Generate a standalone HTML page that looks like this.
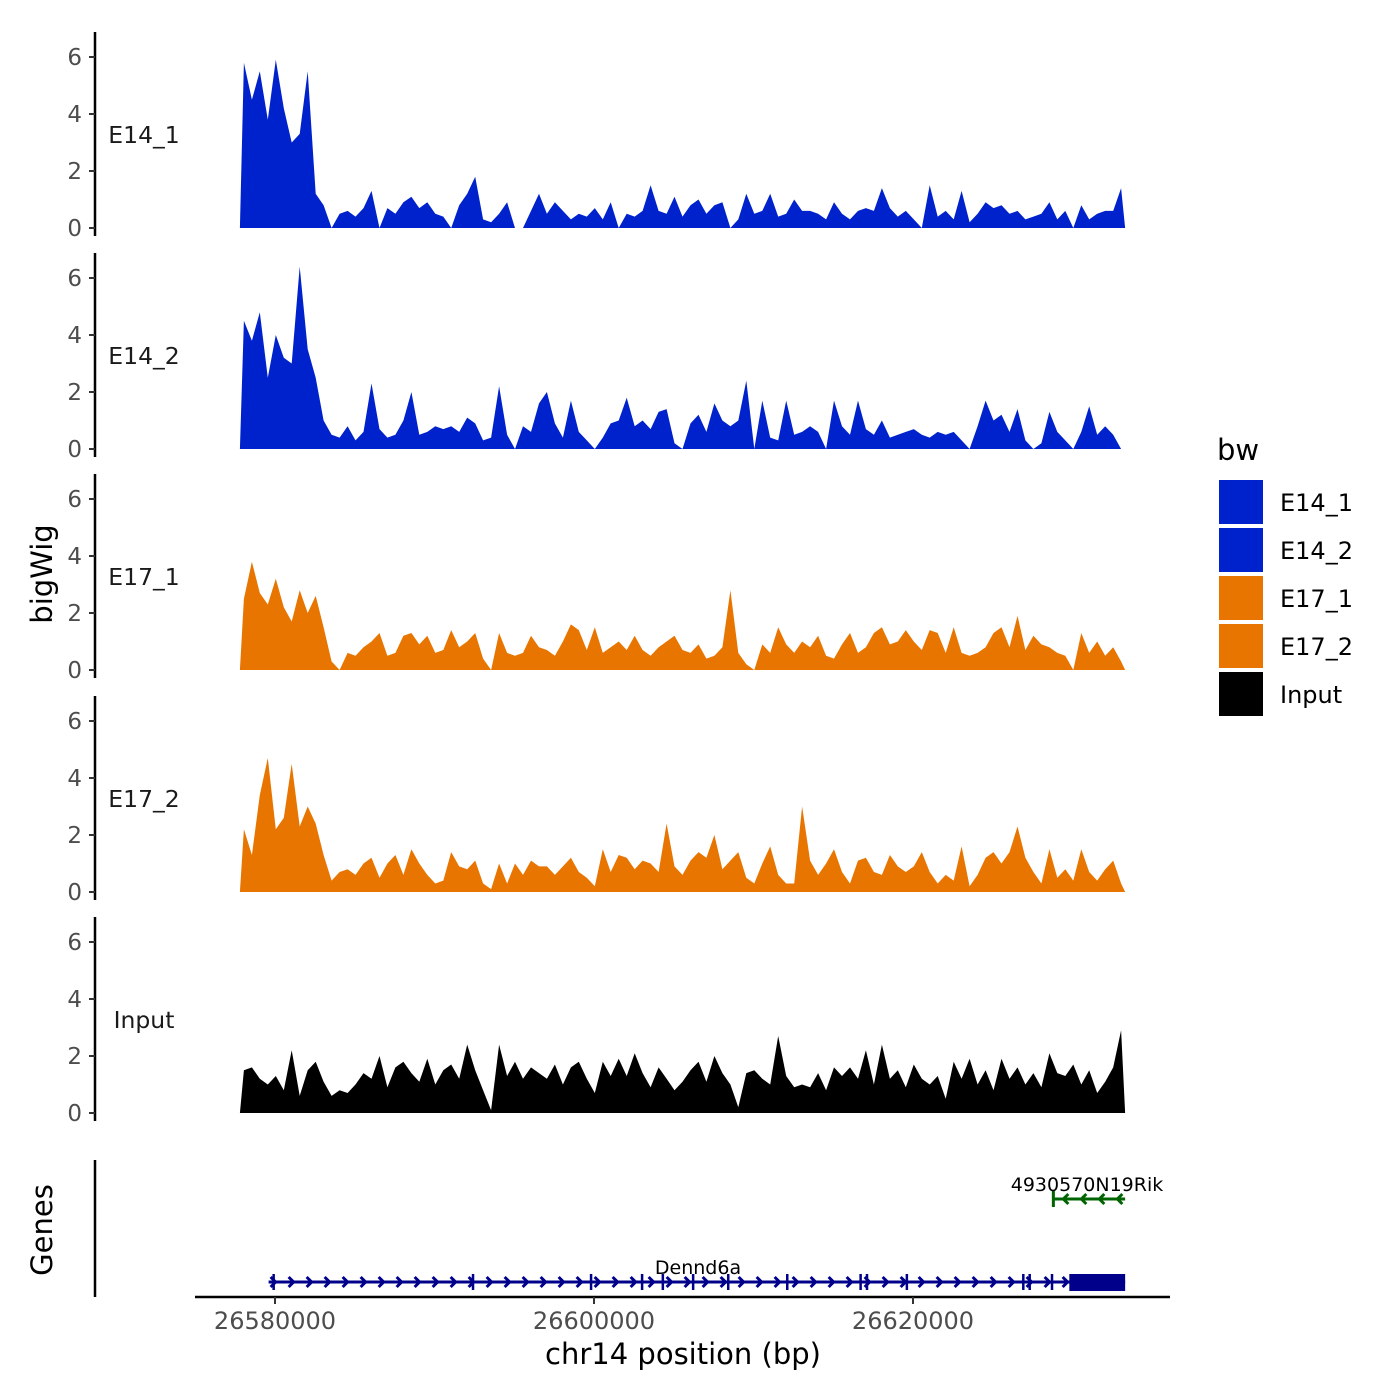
<!DOCTYPE html>
<html><head><meta charset="utf-8"><style>
body{margin:0;background:#fff}
svg{display:block;font-family:"DejaVu Sans","Liberation Sans",sans-serif}
</style></head><body>
<svg id="chart" width="1400" height="1400" viewBox="0 0 1400 1400" xmlns="http://www.w3.org/2000/svg">
<rect width="1400" height="1400" fill="#fff"/>
<g id="tracks"></g>
<g id="genes"></g>
<text x="0" y="0" transform="translate(52,574) rotate(-90)" text-anchor="middle" font-size="29" fill="#000">bigWig</text>
<text x="0" y="0" transform="translate(52,1230) rotate(-90)" text-anchor="middle" font-size="29" fill="#000">Genes</text>
<text x="683" y="1364" text-anchor="middle" font-size="29" fill="#000">chr14 position (bp)</text>
<g id="legend"><text x="1217" y="460" font-size="29" fill="#000">bw</text></g>
</svg>
<script>
const trackNames = ["E14_1","E14_2","E17_1","E17_2","Input"];
const trackColors = ["#0022CC","#0022CC","#E87500","#E87500","#000000"];
const binStart = 26577800;
const binSize = 500;
const yTicks = [0,2,4,6];
const xTicks = [26580000,26600000,26620000];
const e14_1 = [5.8,4.5,5.5,3.8,5.9,4.2,3.0,3.3,5.5,1.2,0.8,0,0.5,0.6,0.4,0.7,1.3,0,0.7,0.5,0.9,1.1,0.7,0.9,0.5,0.4,0,0.8,1.2,1.8,0.3,0.2,0.5,0.9,0,0,0.6,1.2,0.5,0.9,0.6,0.3,0.5,0.4,0.7,0.3,0.9,0,0.5,0.4,0.6,1.5,0.6,0.5,1.1,0.4,0.8,1.0,0.5,0.8,0.9,0,0.3,1.2,0.5,0.6,1.2,0.4,0.5,1.0,0.6,0.6,0.5,0.3,0.9,0.5,0.3,0.6,0.7,0.6,1.4,0.7,0.4,0.6,0.3,0,1.5,0.4,0.6,0.3,1.3,0.2,0.5,0.9,0.7,0.8,0.5,0.6,0.3,0.4,0.5,0.9,0.3,0.6,0,0.8,0.3,0.5,0.6,0.6,1.4];
const e14_2 = [4.5,3.8,4.8,2.5,4.0,3.2,3.0,6.4,3.5,2.5,1.0,0.5,0.4,0.8,0.3,0.6,2.3,0.7,0.4,0.5,1.0,2.0,0.5,0.6,0.8,0.7,0.8,0.6,1.1,0.9,0.3,0.4,2.2,0.5,0,0.8,0.6,1.6,2.0,0.9,0.4,1.7,0.6,0.3,0,0.4,0.9,1.0,1.8,0.8,1.0,0.7,1.3,1.4,0.2,0,0.9,1.2,0.6,1.6,1.0,0.8,1.0,2.4,0,1.7,0.4,0.3,1.7,0.5,0.6,0.8,0.6,0,1.7,0.8,0.5,1.7,0.7,0.5,1.0,0.4,0.5,0.6,0.7,0.5,0.4,0.6,0.5,0.6,0.3,0,0.8,1.7,1.0,1.2,0.6,1.4,0.3,0,0.2,1.3,0.6,0.3,0,0.6,1.5,0.5,0.8,0.5,0];
const e17_1 = [2.5,3.8,2.7,2.3,3.2,2.2,1.7,2.8,2.0,2.6,1.5,0.3,0,0.6,0.5,0.8,1.0,1.3,0.5,0.6,1.2,1.3,0.9,1.2,0.6,0.7,1.4,0.8,1.0,1.3,0.4,0,1.3,0.6,0.5,0.6,1.2,0.8,0.7,0.5,1.0,1.6,1.4,0.7,1.5,0.6,0.8,1.0,0.7,1.2,0.7,0.5,0.8,1.0,1.2,0.7,0.6,0.9,0.4,0.5,0.8,2.8,0.6,0.2,0,0.9,0.6,1.5,0.9,0.6,1.0,0.8,1.2,0.5,0.4,0.9,1.3,0.6,0.8,1.3,1.5,0.9,1.0,1.4,1.0,0.7,1.4,1.3,0.6,1.5,0.6,0.5,0.6,0.8,1.3,1.5,0.8,1.9,0.7,1.2,0.9,0.8,0.6,0.5,0,1.3,0.6,1.0,0.5,0.8,0.3];
const e17_2 = [2.2,1.3,3.4,4.7,2.2,2.6,4.5,2.3,3.0,2.4,1.3,0.4,0.7,0.8,0.6,1.0,1.2,0.5,1.0,1.3,0.6,1.5,1.0,0.6,0.3,0.4,1.4,0.9,0.8,1.1,0.3,0.1,1.0,0.3,1.0,0.6,1.1,0.9,0.9,0.6,0.9,1.2,0.7,0.5,0.2,1.5,0.7,1.3,1.2,0.8,1.1,1.0,0.7,2.4,0.9,0.6,1.1,1.4,1.2,2.0,0.8,1.1,1.4,0.5,0.3,1.0,1.6,0.6,0.3,0.3,3.0,1.1,0.6,1.0,1.5,0.7,0.3,1.1,1.2,0.7,0.6,1.3,0.9,0.7,0.9,1.4,0.7,0.3,0.6,0.4,1.6,0.2,0.6,1.2,1.4,1.0,1.4,2.3,1.2,0.7,0.3,1.5,0.5,0.8,0.4,1.5,0.7,0.4,0.8,1.1,0.3];
const input = [1.5,1.6,1.2,1.0,1.3,0.8,2.2,0.6,1.5,1.8,1.1,0.6,0.8,0.7,1.0,1.4,1.2,2.0,0.9,1.6,1.8,1.4,1.1,1.9,1.0,1.5,1.7,1.2,2.4,1.5,0.8,0.1,2.4,1.3,1.8,1.2,1.6,1.4,1.2,1.7,1.0,1.6,1.8,1.2,0.7,1.8,1.3,1.9,1.3,2.1,1.4,0.9,1.6,1.2,0.8,1.1,1.5,1.8,1.1,2.0,1.4,1.0,0.2,1.4,1.5,1.2,1.0,2.7,1.3,0.9,1.0,0.9,1.4,0.8,1.6,1.3,1.6,1.2,2.2,1.0,2.4,1.2,1.5,0.9,1.7,1.2,1.0,1.3,0.5,1.8,1.2,1.9,1.0,1.5,0.8,1.9,1.2,1.6,1.0,1.4,0.9,2.1,1.4,1.3,1.7,1.0,1.5,0.7,1.1,1.6,2.9];
const seriesList = [e14_1,e14_2,e17_1,e17_2,input];
const exonStarts = [26579900,26592400,26599800,26603000,26604300,26606200,26608400,26612100,26616700,26617100,26619600,26626900,26627300,26628700];
const denndStart = 26579600, denndEnd = 26633300, cdsBoxStart = 26629800;
const rikStart = 26628800, rikEnd = 26633300;

const NS = "http://www.w3.org/2000/svg";
function mk(tag, attrs, parent){const e=document.createElementNS(NS,tag);for(const k in attrs)e.setAttribute(k,attrs[k]);parent.appendChild(e);return e;}
const xPx = bp => 275 + (bp - 26580000) * (319/20000);
const zeroYs = [228,449,670,892,1113];
const yUnit = 28.5;
const tracks = document.getElementById('tracks');
trackNames.forEach((name, t) => {
  const g = mk('g', {}, tracks);
  
  
  const y0 = zeroYs[t];
  const yPx = v => y0 - v * yUnit;
  const ax = mk('line', {x1:95,x2:95,y1:y0-196,y2:y0+8,stroke:'#000','stroke-width':2.5}, g);
  
  
  yTicks.forEach(v => {
    const tk = mk('line', {x1:89,x2:95,y1:yPx(v),y2:yPx(v),stroke:'#333','stroke-width':2}, g);
    
    
    const tl = mk('text', {x:82,y:yPx(v)+8,'text-anchor':'end','font-size':23,fill:'#4d4d4d'}, g);
    tl.textContent = v;
    
    
  });
  const lab = mk('text', {x:144,y:y0-85,'text-anchor':'middle','font-size':23.5,fill:'#1a1a1a'}, g);
  lab.textContent = name;
  
  
  const s = seriesList[t];
  let d = 'M' + xPx(binStart) + ',' + y0;
  s.forEach((v, i) => { d += ' L' + xPx(binStart + i*binSize + binSize/2).toFixed(1) + ',' + yPx(v).toFixed(1); });
  d += ' L' + xPx(binStart + s.length*binSize) + ',' + y0 + ' Z';
  const ar = mk('path', {d:d, fill:trackColors[t]}, g);
  
  
});

const gg = document.getElementById('genes');
const ga = mk('line',{x1:95,x2:95,y1:1160,y2:1297,stroke:'#000','stroke-width':2.5},gg);


const xa = mk('line',{x1:195,x2:1170,y1:1297,y2:1297,stroke:'#000','stroke-width':2.5},gg);


xTicks.forEach(v=>{
  const tk = mk('line',{x1:xPx(v),x2:xPx(v),y1:1297,y2:1304,stroke:'#333','stroke-width':2},gg);
  
  
  const tl = mk('text',{x:xPx(v),y:1329,'text-anchor':'middle','font-size':24,fill:'#4d4d4d'},gg);
  tl.textContent = v;
  
  
});
const dg = mk('g',{},gg);


const gy = 1282;
mk('line',{x1:xPx(denndStart),x2:xPx(denndEnd),y1:gy,y2:gy,stroke:'#00008B','stroke-width':3},dg);
for(let x=xPx(denndStart)+2; x<xPx(cdsBoxStart)-6; x+=18){
  mk('path',{d:`M${x},${gy-5} L${x+5},${gy} L${x},${gy+5}`,stroke:'#00008B','stroke-width':3,fill:'none'},dg);
}
exonStarts.forEach(b=>{ mk('rect',{x:xPx(b)-1,y:gy-8,width:2.5,height:16,fill:'#00008B'},dg); });
mk('rect',{x:xPx(cdsBoxStart),y:gy-8,width:xPx(denndEnd)-xPx(cdsBoxStart),height:17,fill:'#00008B'},dg);
const dl = mk('text',{x:698,y:1274,'text-anchor':'middle','font-size':19,fill:'#000'},dg);
dl.textContent='Dennd6a';


const rg = mk('g',{},gg);


const ry = 1199;
mk('line',{x1:xPx(rikStart),x2:xPx(rikEnd),y1:ry,y2:ry,stroke:'#006400','stroke-width':3},rg);
mk('rect',{x:xPx(rikStart)-1.5,y:ry-8,width:3,height:16,fill:'#006400'},rg);
for(let x=xPx(rikStart)+15; x<xPx(rikEnd); x+=18){
  mk('path',{d:`M${x},${ry-5} L${x-5},${ry} L${x},${ry+5}`,stroke:'#006400','stroke-width':3,fill:'none'},rg);
}
const rl = mk('text',{x:1087,y:1191,'text-anchor':'middle','font-size':19,fill:'#000'},rg);
rl.textContent='4930570N19Rik';



const lg = document.getElementById('legend');
const legendColors = ["#0022CC","#0022CC","#E87500","#E87500","#000000"];
trackNames.forEach((n,i)=>{
  const y = 480 + i*48;
  const k = mk('rect',{x:1219,y:y,width:44,height:44,fill:legendColors[i]},lg);
  
  
  const t = mk('text',{x:1280,y:y+31,'font-size':24,fill:'#000'},lg);
  t.textContent = n;
  
  
});
</script>
</body></html>
